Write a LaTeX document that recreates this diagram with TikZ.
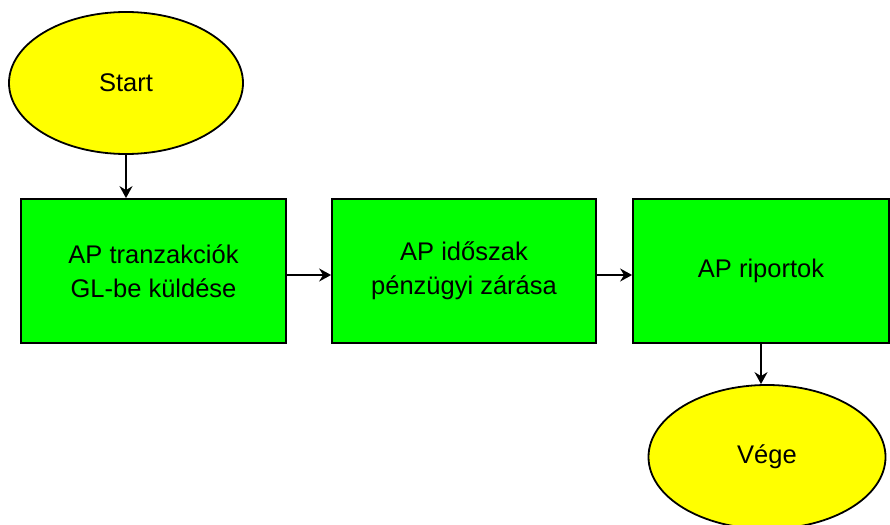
\documentclass[tikz,border=0pt]{standalone}
\usepackage{fontspec}
\setmainfont{Liberation Sans}
\usetikzlibrary{arrows.meta,shapes.geometric}
\definecolor{termfill}{RGB}{255,255,0}
\definecolor{procfill}{RGB}{0,255,0}
\tikzset{
  terminal/.style={ellipse, draw=black, line width=1.8pt, fill=termfill,
    inner sep=0pt, font=\fontsize{25.5}{34}\selectfont},
  process/.style={rectangle, draw=black, line width=1.8pt, fill=procfill,
    inner sep=0pt, align=center, minimum height=144pt,
    font=\fontsize{25.5}{34}\selectfont},
  flow/.style={line width=1.8pt, -{Stealth[length=12pt,width=13pt,inset=4pt]}}
}
\begin{document}
\begin{tikzpicture}[x=1pt,y=-1pt]
\useasboundingbox (0,0) rectangle (890,524);
\node[terminal, minimum width=234pt, minimum height=142pt] (start) at (126,83) {Start};
\node[process, minimum width=265pt] (send) at (153.5,271) {AP tranzakciók\\GL-be küldése};
\node[process, minimum width=264pt] (close) at (464,271) {AP időszak\\pénzügyi zárása};
\node[process, minimum width=256pt] (report) at (761,271) {AP riportok};
\node[terminal, minimum width=237pt, minimum height=144pt] (finish) at (767,457) {Vége};
\draw[flow] (start.south) -- (start.south |- send.north);
\draw[flow] ([yshift=-4pt]send.east) -- ([yshift=-4pt]close.west);
\draw[flow] ([yshift=-4pt]close.east) -- ([yshift=-4pt]report.west);
\draw[flow] (report.south) -- (report.south |- finish.north);
\end{tikzpicture}
\end{document}
